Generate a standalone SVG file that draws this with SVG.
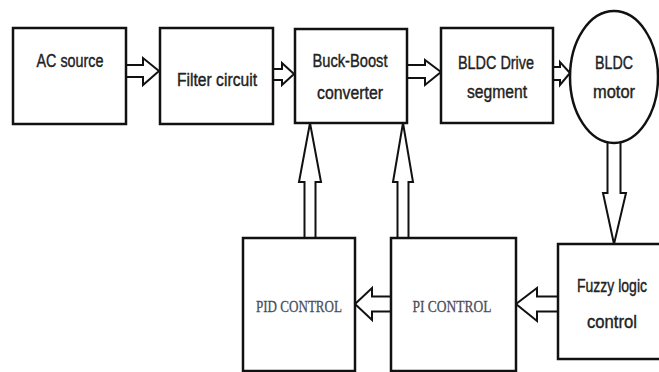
<svg xmlns="http://www.w3.org/2000/svg" width="659" height="372" viewBox="0 0 659 372">
<style>
.box{fill:#fff;stroke:#111;stroke-width:2.5}
.arr{fill:#fff;stroke:#111;stroke-width:2;stroke-linejoin:miter}
.t{font-family:"Liberation Sans",Arial,sans-serif;font-size:18px;fill:#222;stroke:#222;stroke-width:0.4;text-anchor:middle}
.s{font-family:"Liberation Serif","Times New Roman",serif;font-size:17px;fill:#4a4f5a;stroke:#4a4f5a;stroke-width:0.3;text-anchor:middle}
</style>
<rect width="659" height="372" fill="#fff"/>
<g id="connectors">
<polygon class="arr" points="124,65 143,65 143,58 159,71 143,85 143,77 124,77"/>
<polygon class="arr" points="271,69 282,69 282,63 294,74 282,85 282,80 271,80"/>
<polygon class="arr" points="405,65 425,65 425,60 441,72 425,85 425,78 405,78"/>
<polygon class="arr" points="551,67 560,67 560,62 570,73 560,85 560,80 551,80"/>
<polygon class="arr" points="304.5,240 304.5,182 299,182 310,123 321,182 315.5,182 315.5,240"/>
<polygon class="arr" points="397.5,240 397.5,182 393,182 403,123 413,182 408.5,182 408.5,240"/>
<polygon class="arr" points="607.5,140 607.5,193 603,193 614,244 626,193 620.5,193 620.5,140"/>
<polygon class="arr" points="560,296.5 537,296.5 537,288 516,304 537,321 537,311.5 560,311.5"/>
<polygon class="arr" points="393,296.5 372,296.5 372,288 355,304 372,320 372,311.5 393,311.5"/>
</g>
<g id="ac-source">
<rect class="box" x="13" y="28" width="113" height="96"/>
<text class="t" x="70" y="67" textLength="67" lengthAdjust="spacingAndGlyphs">AC source</text>
</g>
<g id="filter-circuit">
<rect class="box" x="160" y="28" width="113" height="96"/>
<text class="t" x="217" y="86" textLength="80" lengthAdjust="spacingAndGlyphs">Filter circuit</text>
</g>
<g id="buck-boost">
<rect class="box" x="295" y="29" width="112" height="94"/>
<text class="t" x="350" y="67" textLength="75" lengthAdjust="spacingAndGlyphs">Buck-Boost</text>
<text class="t" x="350" y="99" textLength="66" lengthAdjust="spacingAndGlyphs">converter</text>
</g>
<g id="bldc-drive">
<rect class="box" x="441" y="28" width="112" height="95"/>
<text class="t" x="496" y="69" textLength="76" lengthAdjust="spacingAndGlyphs">BLDC Drive</text>
<text class="t" x="497" y="98" textLength="60" lengthAdjust="spacingAndGlyphs">segment</text>
</g>
<g id="bldc-motor">
<ellipse class="box" cx="614" cy="77" rx="44" ry="66"/>
<text class="t" x="614" y="69" textLength="38" lengthAdjust="spacingAndGlyphs">BLDC</text>
<text class="t" x="614" y="98" textLength="42" lengthAdjust="spacingAndGlyphs">motor</text>
</g>
<g id="fuzzy-logic">
<rect class="box" x="558" y="244" width="104" height="115"/>
<text class="t" x="612" y="292" textLength="70" lengthAdjust="spacingAndGlyphs">Fuzzy logic</text>
<text class="t" x="612" y="328" textLength="50" lengthAdjust="spacingAndGlyphs">control</text>
</g>
<g id="pi-control">
<rect class="box" x="391" y="238" width="125" height="133"/>
<text class="s" x="452" y="312" textLength="79" lengthAdjust="spacingAndGlyphs">PI CONTROL</text>
</g>
<g id="pid-control">
<rect class="box" x="243" y="238" width="112" height="133"/>
<text class="s" x="299" y="312" textLength="86" lengthAdjust="spacingAndGlyphs">PID CONTROL</text>
</g>
</svg>
